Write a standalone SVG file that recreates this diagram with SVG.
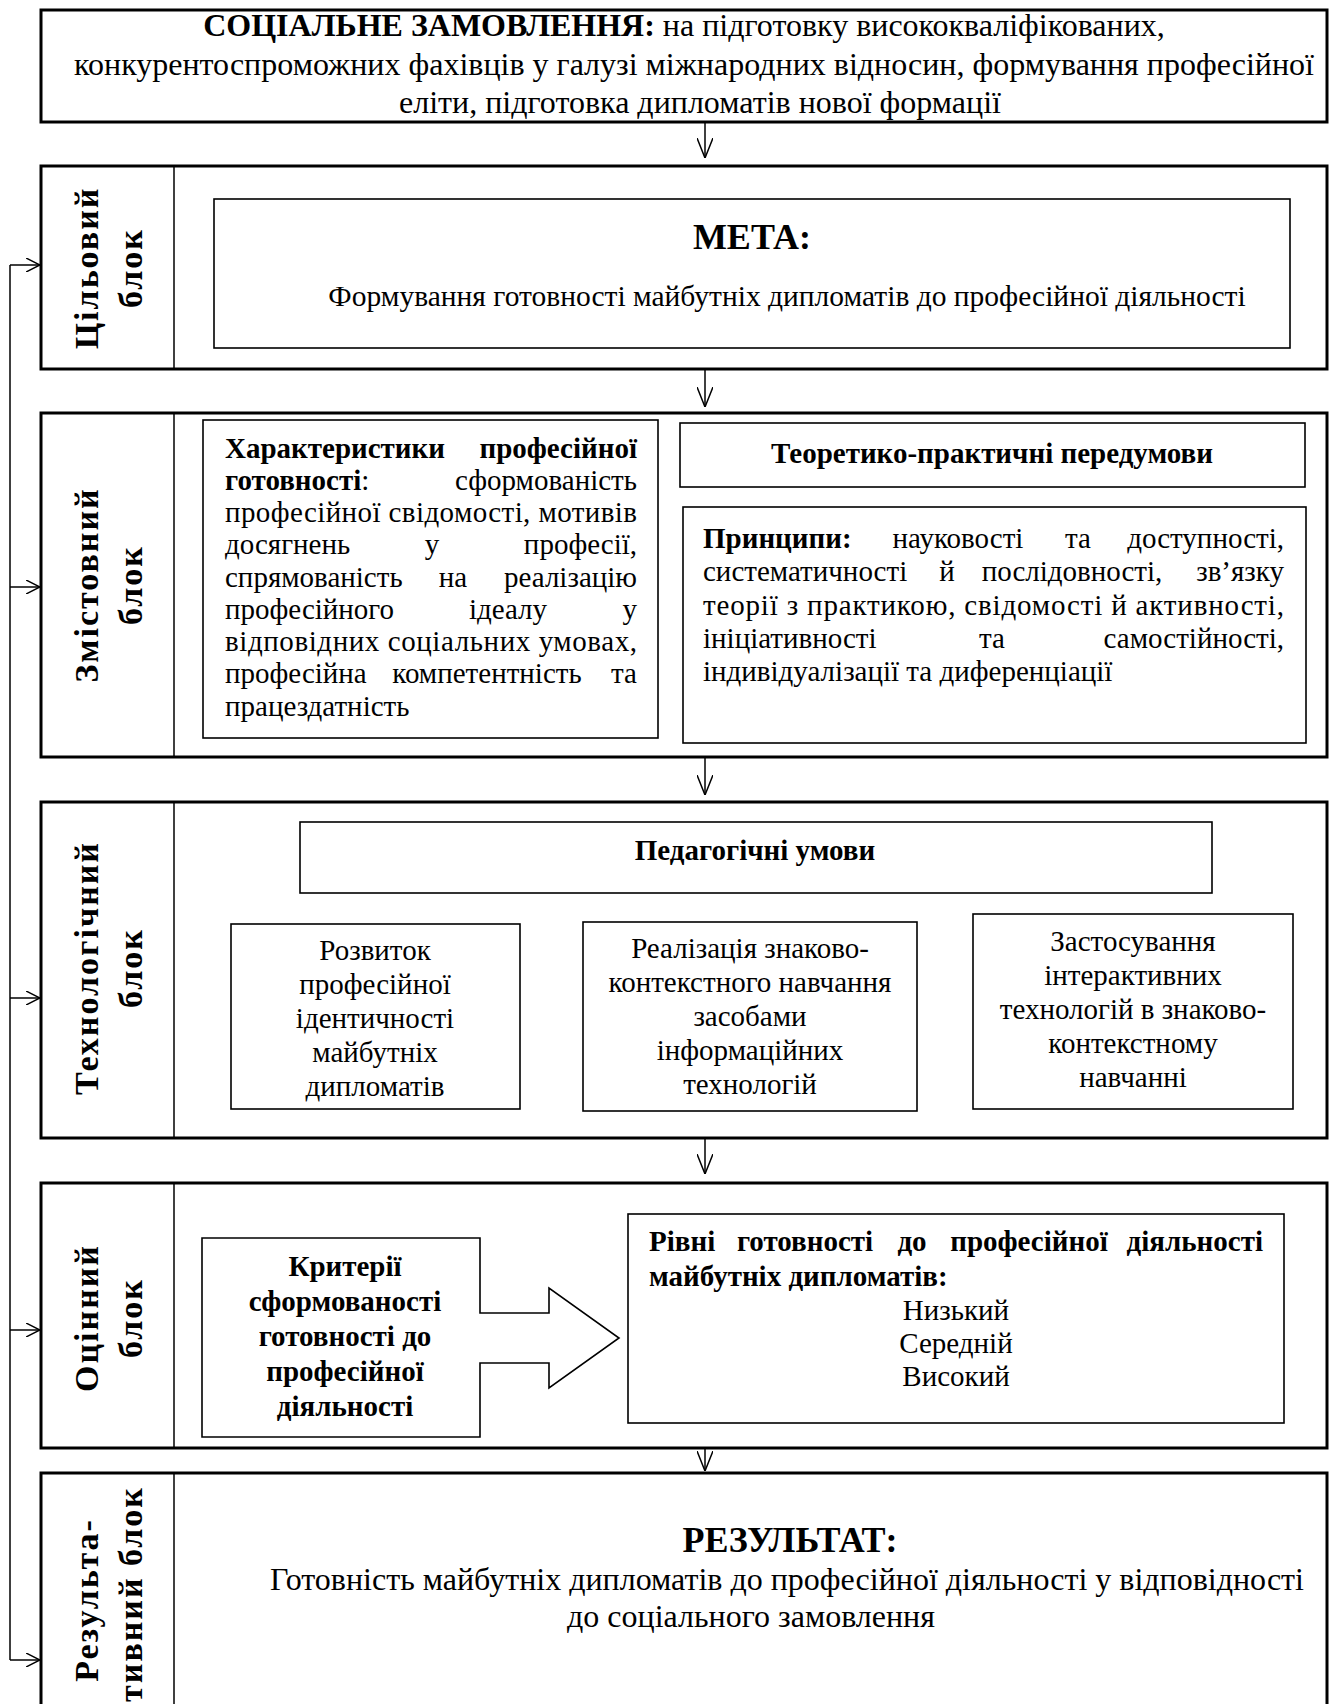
<svg xmlns="http://www.w3.org/2000/svg" width="1329" height="1704" viewBox="0 0 1329 1704">
<defs>
<style>
text{font-family:"Liberation Serif","Times New Roman",serif;fill:#000;}
.t{font-size:32px;}
.m{font-size:29.5px;}
.s{font-size:29px;}
.b{font-weight:bold;}
.h{font-size:36px;font-weight:bold;}
.lbl{font-size:34px;font-weight:bold;letter-spacing:2px;}
.outer{fill:#fff;stroke:#000;stroke-width:3;}
.inner{fill:#fff;stroke:#000;stroke-width:1.6;}
.div{stroke:#000;stroke-width:1.5;}
.con{stroke:#000;stroke-width:1.5;fill:none;}
</style>
<marker id="av" viewBox="0 0 20 16" refX="20" refY="8" markerWidth="20" markerHeight="16" markerUnits="userSpaceOnUse" orient="auto">
<path d="M0,0 L20,8 L0,16" fill="none" stroke="#000" stroke-width="1.5"/>
</marker>
<marker id="ah" viewBox="0 0 14 14" refX="14" refY="7" markerWidth="14" markerHeight="14" markerUnits="userSpaceOnUse" orient="auto">
<path d="M0,0 L14,7 L0,14" fill="none" stroke="#000" stroke-width="1.5"/>
</marker>
</defs>
<rect width="1329" height="1704" fill="#fff"/>

<g id="connectors">
<line class="con" x1="705" y1="122" x2="705" y2="158" marker-end="url(#av)"/>
<line class="con" x1="705" y1="369" x2="705" y2="407" marker-end="url(#av)"/>
<line class="con" x1="705" y1="757" x2="705" y2="795" marker-end="url(#av)"/>
<line class="con" x1="705" y1="1138" x2="705" y2="1174" marker-end="url(#av)"/>
<line class="con" x1="705" y1="1448" x2="705" y2="1471" marker-end="url(#av)"/>
<path class="con" d="M10,265 V1660"/>
<line class="con" x1="10" y1="265" x2="40" y2="265" marker-end="url(#ah)"/>
<line class="con" x1="10" y1="587" x2="40" y2="587" marker-end="url(#ah)"/>
<line class="con" x1="10" y1="998" x2="40" y2="998" marker-end="url(#ah)"/>
<line class="con" x1="10" y1="1330" x2="40" y2="1330" marker-end="url(#ah)"/>
<line class="con" x1="10" y1="1660" x2="40" y2="1660" marker-end="url(#ah)"/>
</g>

<g id="social-order">
<rect class="outer" x="41" y="10" width="1286" height="112"/>
<text class="t" x="684" y="36" text-anchor="middle"><tspan class="b">СОЦІАЛЬНЕ ЗАМОВЛЕННЯ:</tspan> на підготовку висококваліфікованих,</text>
<text class="t" x="694" y="75" text-anchor="middle">конкурентоспроможних фахівців у галузі міжнародних відносин, формування професійної</text>
<text class="t" x="700" y="113" text-anchor="middle">еліти, підготовка дипломатів нової формації</text>
</g>

<g id="target-block">
<rect class="outer" x="41" y="166" width="1286" height="203"/>
<line class="div" x1="174" y1="166" x2="174" y2="369"/>
<text class="lbl" transform="translate(98,268) rotate(-90)" text-anchor="middle">Цільовий</text>
<text class="lbl" transform="translate(142,268) rotate(-90)" text-anchor="middle">блок</text>
</g>
<g id="goal">
<rect class="inner" x="214" y="199" width="1076" height="149"/>
<text class="h" x="752" y="249" text-anchor="middle">МЕТА:</text>
<text class="m" x="787" y="306" text-anchor="middle">Формування готовності майбутніх дипломатів до професійної діяльності</text>
</g>

<g id="content-block">
<rect class="outer" x="41" y="413" width="1286" height="344"/>
<line class="div" x1="174" y1="413" x2="174" y2="757"/>
<text class="lbl" transform="translate(98,585) rotate(-90)" text-anchor="middle">Змістовний</text>
<text class="lbl" transform="translate(142,585) rotate(-90)" text-anchor="middle">блок</text>
</g>
<g id="characteristics">
<rect class="inner" x="203" y="420" width="455" height="318"/>
<text class="s"><tspan class="b" x="225" y="458">Характеристики</tspan><tspan class="b" x="637" y="458" text-anchor="end">професійної</tspan></text>
<text class="s"><tspan class="b" x="225" y="490">готовності</tspan><tspan>:</tspan><tspan x="637" y="490" text-anchor="end">сформованість</tspan></text>
<text class="s" x="225" y="522" textLength="412" lengthAdjust="spacing">професійної свідомості, мотивів</text>
<text class="s"><tspan x="225" y="554">досягнень</tspan><tspan x="432" y="554" text-anchor="middle">у</tspan><tspan x="637" y="554" text-anchor="end">професії,</tspan></text>
<text class="s"><tspan x="225" y="587">спрямованість</tspan><tspan x="453" y="587" text-anchor="middle">на</tspan><tspan x="637" y="587" text-anchor="end">реалізацію</tspan></text>
<text class="s"><tspan x="225" y="619">професійного</tspan><tspan x="508" y="619" text-anchor="middle">ідеалу</tspan><tspan x="637" y="619" text-anchor="end">у</tspan></text>
<text class="s" x="225" y="651" textLength="412" lengthAdjust="spacing">відповідних соціальних умовах,</text>
<text class="s"><tspan x="225" y="683">професійна</tspan><tspan x="487" y="683" text-anchor="middle">компетентність</tspan><tspan x="637" y="683" text-anchor="end">та</tspan></text>
<text class="s" x="225" y="716">працездатність</text>
</g>
<g id="theory-practice">
<rect class="inner" x="680" y="423" width="625" height="64"/>
<text class="s b" x="992" y="463" text-anchor="middle">Теоретико-практичні передумови</text>
</g>
<g id="principles">
<rect class="inner" x="683" y="507" width="623" height="236"/>
<text class="s"><tspan class="b" x="703" y="548">Принципи:</tspan><tspan x="958" y="548" text-anchor="middle">науковості</tspan><tspan x="1078" y="548" text-anchor="middle">та</tspan><tspan x="1284" y="548" text-anchor="end">доступності,</tspan></text>
<text class="s"><tspan x="703" y="581">систематичності</tspan><tspan x="947" y="581" text-anchor="middle">й</tspan><tspan x="1072" y="581" text-anchor="middle">послідовності,</tspan><tspan x="1284" y="581" text-anchor="end">зв’язку</tspan></text>
<text class="s" x="703" y="615" textLength="581" lengthAdjust="spacing">теорії з практикою, свідомості й активності,</text>
<text class="s"><tspan x="703" y="648">ініціативності</tspan><tspan x="992" y="648" text-anchor="middle">та</tspan><tspan x="1284" y="648" text-anchor="end">самостійності,</tspan></text>
<text class="s" x="703" y="681">індивідуалізації та диференціації</text>
</g>

<g id="tech-block">
<rect class="outer" x="41" y="802" width="1286" height="336"/>
<line class="div" x1="174" y1="802" x2="174" y2="1138"/>
<text class="lbl" transform="translate(98,968) rotate(-90)" text-anchor="middle">Технологічний</text>
<text class="lbl" transform="translate(142,968) rotate(-90)" text-anchor="middle">блок</text>
</g>
<g id="ped-conditions">
<rect class="inner" x="300" y="822" width="912" height="71"/>
<text class="s b" x="755" y="860" text-anchor="middle">Педагогічні умови</text>
</g>
<g id="cond-1">
<rect class="inner" x="231" y="924" width="289" height="185"/>
<text class="s" text-anchor="middle"><tspan x="375" y="960">Розвиток</tspan><tspan x="375" y="994">професійної</tspan><tspan x="375" y="1028">ідентичності</tspan><tspan x="375" y="1062">майбутніх</tspan><tspan x="375" y="1096">дипломатів</tspan></text>
</g>
<g id="cond-2">
<rect class="inner" x="583" y="922" width="334" height="189"/>
<text class="s" text-anchor="middle"><tspan x="750" y="958">Реалізація знаково-</tspan><tspan x="750" y="992">контекстного навчання</tspan><tspan x="750" y="1026">засобами</tspan><tspan x="750" y="1060">інформаційних</tspan><tspan x="750" y="1094">технологій</tspan></text>
</g>
<g id="cond-3">
<rect class="inner" x="973" y="914" width="320" height="195"/>
<text class="s" text-anchor="middle"><tspan x="1133" y="951">Застосування</tspan><tspan x="1133" y="985">інтерактивних</tspan><tspan x="1133" y="1019">технологій в знаково-</tspan><tspan x="1133" y="1053">контекстному</tspan><tspan x="1133" y="1087">навчанні</tspan></text>
</g>

<g id="eval-block">
<rect class="outer" x="41" y="1183" width="1286" height="265"/>
<line class="div" x1="174" y1="1183" x2="174" y2="1448"/>
<text class="lbl" transform="translate(98,1318) rotate(-90)" text-anchor="middle">Оцінний</text>
<text class="lbl" transform="translate(142,1318) rotate(-90)" text-anchor="middle">блок</text>
</g>
<g id="criteria">
<path class="inner" d="M202,1238 H480 V1313 H549 V1288 L619,1338 L549,1388 V1363 H480 V1437 H202 Z"/>
<text class="s b" text-anchor="middle"><tspan x="345" y="1276">Критерії</tspan><tspan x="345" y="1311">сформованості</tspan><tspan x="345" y="1346">готовності до</tspan><tspan x="345" y="1381">професійної</tspan><tspan x="345" y="1416">діяльності</tspan></text>
</g>
<g id="levels">
<rect class="inner" x="628" y="1214" width="656" height="209"/>
<text class="s b"><tspan x="649" y="1251">Рівні</tspan><tspan x="805" y="1251" text-anchor="middle">готовності</tspan><tspan x="912" y="1251" text-anchor="middle">до</tspan><tspan x="1029" y="1251" text-anchor="middle">професійної</tspan><tspan x="1263" y="1251" text-anchor="end">діяльності</tspan></text>
<text class="s b" x="649" y="1286">майбутніх дипломатів:</text>
<text class="s" text-anchor="middle"><tspan x="956" y="1320">Низький</tspan><tspan x="956" y="1353">Середній</tspan><tspan x="956" y="1386">Високий</tspan></text>
</g>

<g id="result-block">
<rect class="outer" x="41" y="1473" width="1286" height="260"/>
<line class="div" x1="174" y1="1473" x2="174" y2="1704"/>
<text class="lbl" transform="translate(98,1600) rotate(-90)" text-anchor="middle">Результа-</text>
<text class="lbl" transform="translate(142,1594) rotate(-90)" text-anchor="middle">тивний блок</text>
<text class="h" x="790" y="1552" text-anchor="middle">РЕЗУЛЬТАТ:</text>
<text class="t" x="787" y="1590" text-anchor="middle">Готовність майбутніх дипломатів до професійної діяльності у відповідності</text>
<text class="t" x="751" y="1627" text-anchor="middle">до соціального замовлення</text>
</g>
</svg>
